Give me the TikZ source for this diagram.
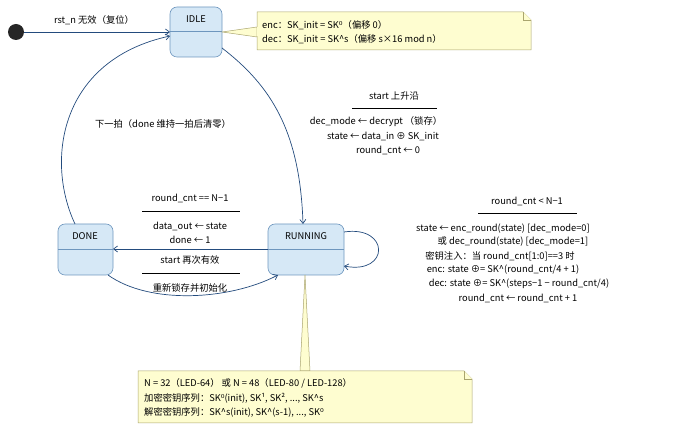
\documentclass[tikz,border=0pt]{standalone}
\usepackage{fontspec}
\setmainfont{Noto Sans CJK SC}
\newfontfamily\dejav{DejaVu Sans}
\newcommand{\supz}{{\dejav ⁰}}
\usetikzlibrary{arrows.meta}
\definecolor{sfill}{RGB}{214,232,246}
\definecolor{sdraw}{RGB}{110,150,190}
\definecolor{edge}{RGB}{35,75,125}
\definecolor{nfill}{RGB}{254,253,208}
\definecolor{ndraw}{RGB}{170,165,110}
\begin{document}
\begin{tikzpicture}[x=1pt,y=-1pt,
  state/.style={draw=sdraw,fill=sfill,rounded corners=7pt,line width=0.6pt},
  tr/.style={draw=edge,line width=0.7pt,-{Straight Barb[length=4pt,width=6pt]}},
  lbl/.style={font=\fontsize{9.3}{11}\selectfont,inner sep=0pt,align=center},
  nt/.style={font=\fontsize{9.3}{11}\selectfont,inner sep=0pt,anchor=west},
  ndr/.style={draw=ndraw,fill=nfill,line width=0.5pt}]
\useasboundingbox (0,0) rectangle (678,430);
% start
\fill[black!85] (16,32) circle (8);
\coordinate (s) at (24,32);
% IDLE
\draw[state] (170,7) rectangle (222,57);
\draw[sdraw,line width=0.6pt] (170,31) -- (222,31);
\node[lbl] (idle) at (196,19) {IDLE};
\coordinate (idleL) at (170,32);
% DONE
\draw[state] (58,224) rectangle (113,275);
\draw[sdraw,line width=0.6pt] (58,249) -- (113,249);
\node[lbl] (done) at (85,236) {DONE};
% RUNNING
\draw[state] (268,224) rectangle (344,275);
\draw[sdraw,line width=0.6pt] (268,249) -- (344,249);
\node[lbl] (run) at (306,236) {RUNNING};
% note 1
\draw[ndr] (222,32) -- (257,27) -- (257,37) -- cycle;
\draw[ndr] (257,12) -- (523,12) -- (531,20) -- (531,50) -- (257,50) -- cycle;
\draw[ndr] (523,12) -- (523,20) -- (531,20);
\fill[nfill] (256.6,27.5) rectangle (258,36.5);
\node[nt] (n1a) at (262,25) {enc：SK\_init = SK\supz（偏移 0）};
\node[nt] (n1b) at (262,39) {dec：SK\_init = SK\^{}s（偏移 s×16 mod n）};
% note 2
\draw[ndr] (305,275) -- (300,371) -- (310,371) -- cycle;
\draw[ndr] (138,371) -- (464,371) -- (472,379) -- (472,423) -- (138,423) -- cycle;
\draw[ndr] (464,371) -- (464,379) -- (472,379);
\node[nt] (n2a) at (144,383) {N = 32（LED-64） 或 N = 48（LED-80 / LED-128）};
\node[nt] (n2b) at (144,398) {加密密钥序列：SK\supz(init), SK¹, SK², ..., SK\^{}s};
\node[nt] (n2c) at (144,412) {解密密钥序列：SK\^{}s(init), SK\^{}(s-1), ..., SK\supz};
% transitions
\draw[tr] (s) -- (idleL);
\node[lbl] (l0) at (94,20) {rst\_n 无效（复位）};
\draw[tr] (222,48) .. controls (270,85) and (300,130) .. (303,224);
\node[lbl] (l1) at (394,96) {start 上升沿};
\draw[black,line width=0.5pt] (352,108) -- (437,108);
\node[lbl] (l1b) at (376,122) {dec\_mode ← decrypt （锁存）};
\node[lbl] (l1c) at (383,136) {state ← data\_in ⊕ SK\_init};
\node[lbl] (l1d) at (388,150) {round\_cnt ← 0};
\draw[tr] (75,224) .. controls (45,160) and (60,60) .. (170,36);
\node[lbl] (l2) at (163,124) {下一拍（done 维持一拍后清零）};
\draw[tr] (268,249) -- (113,249);
\node[lbl] (l3) at (190,198) {round\_cnt == N−1};
\draw[black,line width=0.5pt] (142,211) -- (240,211);
\node[lbl] (l3b) at (190,226) {data\_out ← state};
\node[lbl] (l3c) at (190,240) {done ← 1};
\draw[tr] (108,275) .. controls (150,305) and (230,300) .. (278,275);
\node[lbl] (l4) at (190,260) {start 再次有效};
\draw[black,line width=0.5pt] (142,273) -- (240,273);
\node[lbl] (l4b) at (190,288) {重新锁存并初始化};
\draw[tr] (344,232) .. controls (390,225) and (390,275) .. (344,266);
\node[lbl] (l5) at (527,201) {round\_cnt < N−1};
\draw[black,line width=0.5pt] (478,213) -- (577,213);
\node[lbl] (l5a) at (503,229) {state ← enc\_round(state) [dec\_mode=0]};
\node[lbl] (l5b) at (513,242) {或 dec\_round(state) [dec\_mode=1]};
\node[lbl] (l5c) at (500,256) {密钥注入：当 round\_cnt[1:0]==3 时};
\node[lbl] (l5d) at (503,270) {enc: state ⊕= SK\^{}(round\_cnt/4 + 1)};
\node[lbl] (l5e) at (519,284) {dec: state ⊕= SK\^{}(steps−1 − round\_cnt/4)};
\node[lbl] (l5f) at (518,298) {round\_cnt ← round\_cnt + 1};
\end{tikzpicture}
\end{document}
